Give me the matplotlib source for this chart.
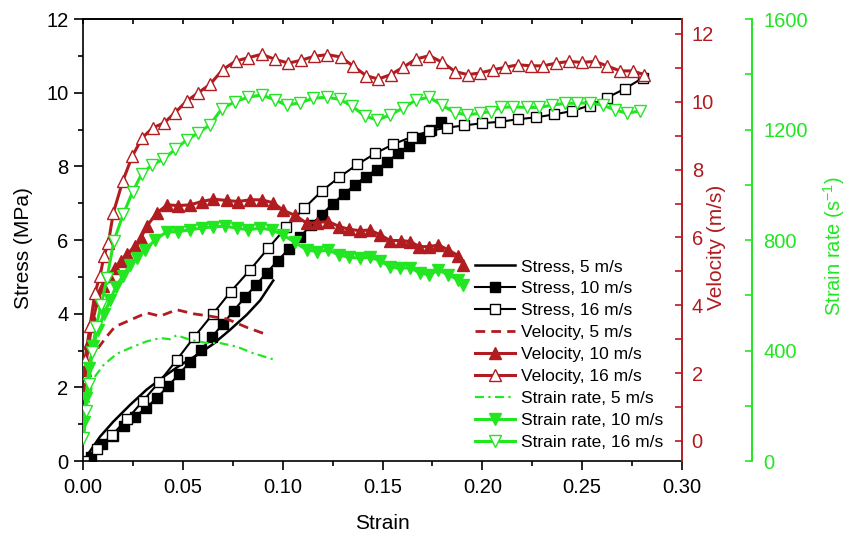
import matplotlib
matplotlib.use("Agg")
from matplotlib import pyplot as plt
from matplotlib.ticker import MultipleLocator, FormatStrFormatter

plt.rcParams['font.family'] = ['Liberation Sans', 'DejaVu Sans']

RED = '#b01c20'
GREEN = '#22e622'

# stress (MPa)
stress5_x = [0.0027, 0.0085, 0.0152, 0.0235, 0.0319, 0.0402, 0.0486, 0.0569, 0.0653, 0.0736, 0.082, 0.0887, 0.0953]
stress5_y = [0.2, 0.66, 1.07, 1.52, 1.94, 2.28, 2.6, 2.87, 3.18, 3.56, 3.97, 4.36, 4.9]

stress10_x = [0.004, 0.0095, 0.015, 0.0205, 0.026, 0.0315, 0.037, 0.0425, 0.048, 0.0535, 0.059, 0.0645, 0.070,
              0.0755, 0.081, 0.0865, 0.092, 0.0975, 0.103, 0.1085, 0.114, 0.1195, 0.125, 0.1305, 0.136, 0.1415,
              0.147, 0.1525, 0.158, 0.1635, 0.169, 0.1745, 0.1795]
stress10_y = [0.1, 0.45, 0.69, 0.95, 1.2, 1.44, 1.71, 2.03, 2.35, 2.69, 3.01, 3.36, 3.72, 4.08, 4.44, 4.77, 5.11,
              5.44, 5.75, 6.07, 6.4, 6.69, 6.98, 7.24, 7.49, 7.72, 7.91, 8.13, 8.36, 8.55, 8.77, 8.99, 9.21]

stress16_x = [0.0005, 0.0069, 0.0144, 0.0219, 0.0299, 0.0382, 0.0469, 0.0556, 0.065, 0.074, 0.0837, 0.0928, 0.1017,
              0.1107, 0.1196, 0.1284, 0.1374, 0.1463, 0.1554, 0.1646, 0.1735, 0.1822, 0.1909, 0.1997, 0.2089,
              0.218, 0.2269, 0.2359, 0.2448, 0.2537, 0.2623, 0.2715, 0.2803]
stress16_y = [0.0, 0.32, 0.7, 1.13, 1.62, 2.15, 2.74, 3.36, 3.99, 4.6, 5.19, 5.78, 6.34, 6.86, 7.33, 7.71, 8.05,
              8.35, 8.6, 8.8, 8.96, 9.05, 9.11, 9.17, 9.21, 9.28, 9.33, 9.41, 9.5, 9.65, 9.86, 10.11, 10.4]

# velocity (m/s)
vel5_x = [0.0005, 0.002, 0.004, 0.0069, 0.0119, 0.016, 0.0219, 0.0319, 0.0386, 0.0469, 0.0553, 0.0636, 0.072, 0.082, 0.0928]
vel5_y = [1.42, 2.1, 2.45, 2.69, 3.08, 3.37, 3.52, 3.78, 3.68, 3.87, 3.75, 3.68, 3.6, 3.35, 3.12]

vel10_x = [0.001, 0.003, 0.005, 0.0075, 0.010, 0.013, 0.016, 0.019, 0.0219, 0.026, 0.029, 0.0319, 0.0369, 0.0422,
           0.0477, 0.0536, 0.0595, 0.0653, 0.0720, 0.0778, 0.0836, 0.0895, 0.0953, 0.1003, 0.1062, 0.1121, 0.1174,
           0.1229, 0.1284, 0.1334, 0.1387, 0.1437, 0.1487, 0.1538, 0.1591, 0.1638, 0.1685, 0.1735, 0.1780, 0.1830,
           0.1880, 0.1905]
vel10_y = [2.1, 2.89, 3.58, 4.17, 4.56, 4.86, 5.1, 5.3, 5.5, 5.74, 5.99, 6.33, 6.72, 6.96, 6.94, 6.96, 7.06, 7.13,
           7.09, 7.06, 7.11, 7.11, 7.02, 6.8, 6.65, 6.42, 6.44, 6.47, 6.32, 6.24, 6.2, 6.22, 6.08, 5.91, 5.91, 5.88,
           5.73, 5.73, 5.78, 5.63, 5.46, 5.19]

vel16_x = [0.001, 0.0035, 0.006, 0.0085, 0.0105, 0.0127, 0.0152, 0.0199, 0.0247, 0.0297, 0.0349, 0.0407, 0.0461,
           0.0519, 0.0578, 0.0636, 0.0700, 0.0765, 0.0828, 0.0895, 0.0962, 0.1029, 0.1090, 0.1157, 0.1224, 0.1291,
           0.1351, 0.1418, 0.1479, 0.1541, 0.1604, 0.1668, 0.1735, 0.1800, 0.1864, 0.1927, 0.1989, 0.2053, 0.2116,
           0.2180, 0.2244, 0.2306, 0.2370, 0.2436, 0.2498, 0.2565, 0.2623, 0.2690, 0.2753, 0.2810]
vel16_y = [2.4, 3.38, 4.37, 4.86, 5.45, 5.84, 6.73, 7.66, 8.4, 8.94, 9.23, 9.38, 9.68, 10.02, 10.27, 10.51, 10.95,
           11.2, 11.3, 11.4, 11.25, 11.14, 11.22, 11.34, 11.39, 11.32, 11.06, 10.77, 10.67, 10.8, 11.02, 11.26, 11.36,
           11.16, 10.89, 10.8, 10.85, 10.94, 11.02, 11.09, 11.06, 11.06, 11.14, 11.19, 11.16, 11.19, 11.06, 10.91,
           10.91, 10.8]

# strain rate (1/s)
sr5_x = [0.0005, 0.002, 0.0052, 0.0102, 0.0169, 0.0252, 0.0319, 0.0386, 0.0436, 0.0469, 0.0536, 0.0619, 0.0686, 0.077, 0.0853, 0.0953]
sr5_y = [92, 180, 298, 347, 388, 414, 433, 445, 441, 455, 439, 427, 427, 414, 390, 368]

sr10_x = [0.0005, 0.0015, 0.003, 0.005, 0.0075, 0.0105, 0.0135, 0.0165, 0.020, 0.0235, 0.027, 0.031, 0.0361, 0.0419,
          0.0477, 0.0536, 0.0595, 0.0653, 0.0711, 0.0770, 0.0828, 0.0887, 0.0945, 0.1003, 0.1062, 0.1121, 0.1174,
          0.1229, 0.1284, 0.1334, 0.1387, 0.1437, 0.1487, 0.1538, 0.1588, 0.1638, 0.1688, 0.1735, 0.1780, 0.1830,
          0.1880, 0.1905]
sr10_y = [141, 229, 337, 415, 474, 533, 582, 631, 671, 710, 735, 764, 800, 830, 830, 837, 843, 848, 850, 843, 837,
          843, 837, 818, 791, 764, 758, 764, 745, 738, 734, 738, 725, 703, 697, 700, 680, 674, 691, 674, 655, 637]

sr16_x = [0.0002, 0.0015, 0.003, 0.0045, 0.0065, 0.009, 0.012, 0.0155, 0.0202, 0.0249, 0.0294, 0.0344, 0.0402,
          0.0461, 0.0519, 0.0578, 0.0636, 0.0695, 0.0762, 0.0828, 0.0895, 0.0962, 0.1020, 0.1087, 0.1153, 0.1220,
          0.1287, 0.1346, 0.1412, 0.1474, 0.1538, 0.1601, 0.1668, 0.1735, 0.1797, 0.1864, 0.1925, 0.1989, 0.2041,
          0.2093, 0.2156, 0.2223, 0.2286, 0.2348, 0.2414, 0.2476, 0.2540, 0.2603, 0.2665, 0.2723, 0.2790]
sr16_y = [82, 180, 278, 396, 484, 563, 661, 798, 894, 975, 1039, 1071, 1092, 1128, 1162, 1188, 1217, 1275, 1301,
          1317, 1325, 1307, 1288, 1297, 1313, 1317, 1309, 1285, 1249, 1234, 1253, 1277, 1307, 1317, 1288, 1261,
          1253, 1259, 1265, 1280, 1282, 1280, 1280, 1288, 1295, 1295, 1297, 1288, 1271, 1259, 1267]

fig = plt.figure(figsize=(8.47, 5.34), dpi=100)
ax = fig.add_axes([0.098, 0.1367, 0.7072, 0.8277])
ax2 = ax.twinx()
ax3 = ax.twinx()

h = []
h += ax.plot(stress5_x, stress5_y, color='black', lw=1.8, label='Stress, 5 m/s')
h += ax.plot(stress10_x, stress10_y, color='black', lw=1.5, marker='s', ms=7, mfc='black', mec='black',
             label='Stress, 10 m/s')
h += ax.plot(stress16_x, stress16_y, color='black', lw=1.5, marker='s', ms=7.5, mfc='white', mec='black', mew=1,
             label='Stress, 16 m/s')

h += ax2.plot(vel5_x, vel5_y, color=RED, lw=2, ls=(0, (3.5, 2.2)), label='Velocity, 5 m/s')
h += ax2.plot(vel10_x, vel10_y, color=RED, lw=2.2, marker='^', ms=8.5, mfc=RED, mec=RED,
              label='Velocity, 10 m/s')
h += ax2.plot(vel16_x, vel16_y, color=RED, lw=2.2, marker='^', ms=8.5, mfc='white', mec=RED,
              mew=1, label='Velocity, 16 m/s')

h += ax3.plot(sr5_x, sr5_y, color=GREEN, lw=1.6, ls=(0, (4, 2, 1, 2)), label='Strain rate, 5 m/s')
h += ax3.plot(sr10_x, sr10_y, color=GREEN, lw=2.2, marker='v', ms=8.5, mfc=GREEN, mec=GREEN,
              label='Strain rate, 10 m/s')
h += ax3.plot(sr16_x, sr16_y, color=GREEN, lw=2.2, marker='v', ms=8.5, mfc='white', mec=GREEN,
              mew=1, label='Strain rate, 16 m/s')

# main axes
ax.set_xlim(0, 0.30)
ax.set_ylim(0, 12)
ax.xaxis.set_major_locator(MultipleLocator(0.05))
ax.xaxis.set_minor_locator(MultipleLocator(0.025))
ax.yaxis.set_major_locator(MultipleLocator(2))
ax.yaxis.set_minor_locator(MultipleLocator(1))
ax.xaxis.set_major_formatter(FormatStrFormatter('%.2f'))
ax.tick_params(axis='both', which='major', direction='out', length=6.5, width=1.2, labelsize=14.5, pad=4)
ax.tick_params(axis='x', which='major', pad=5.5)
ax.tick_params(axis='both', which='minor', direction='out', length=3.5, width=1.2)
ax.tick_params(axis='y', right=False)
for s in ['left', 'bottom', 'top']:
    ax.spines[s].set_linewidth(1.2)
ax.spines['right'].set_visible(False)
ax.set_xlabel('Strain', fontsize=15)
ax.set_ylabel('Stress (MPa)', fontsize=15)
ax.xaxis.set_label_coords(0.5, -0.12)
ax.yaxis.set_label_coords(-0.083, 0.482)

top = ax.secondary_xaxis('top')
top.xaxis.set_major_locator(MultipleLocator(0.025))
top.tick_params(direction='in', length=3.5, width=1.2, labeltop=False)
top.spines['top'].set_linewidth(1.2)

# velocity axis
ax2.set_ylim(-0.59, 12.44)
ax2.yaxis.set_major_locator(MultipleLocator(2))
ax2.yaxis.set_minor_locator(MultipleLocator(1))
ax2.tick_params(axis='y', which='both', direction='in', length=5, width=1.2, color=RED, labelcolor=RED,
                labelsize=14.5, pad=7)
for s in ['left', 'top', 'bottom']:
    ax2.spines[s].set_visible(False)
ax2.spines['right'].set_color(RED)
ax2.spines['right'].set_linewidth(1.4)
ax2.set_ylabel('Velocity (m/s)', fontsize=15, color=RED)
ax2.yaxis.set_label_coords(1.041, 0.484)

# strain rate axis
ax3.set_ylim(0, 1600)
ax3.spines['right'].set_position(('axes', 1.117))
ax3.yaxis.set_major_locator(MultipleLocator(400))
ax3.yaxis.set_minor_locator(MultipleLocator(200))
ax3.tick_params(axis='y', which='both', direction='in', length=5, width=1.2, color=GREEN, labelcolor=GREEN,
                labelsize=14.5, pad=8)
for s in ['left', 'top', 'bottom']:
    ax3.spines[s].set_visible(False)
ax3.spines['right'].set_color(GREEN)
ax3.spines['right'].set_linewidth(1.4)
ax3.set_ylabel('Strain rate (s$^{\\mathregular{-1}}$)', fontsize=14.5, color=GREEN)
ax3.yaxis.set_label_coords(1.233, 0.486)

fig.legend(handles=h, loc='upper left', bbox_to_anchor=(0.551, 0.5305), frameon=False, fontsize=12.5,
           borderpad=0, handlelength=2.3, handletextpad=0.35, labelspacing=0.39, numpoints=1)

fig.savefig('out.png', dpi=100)
